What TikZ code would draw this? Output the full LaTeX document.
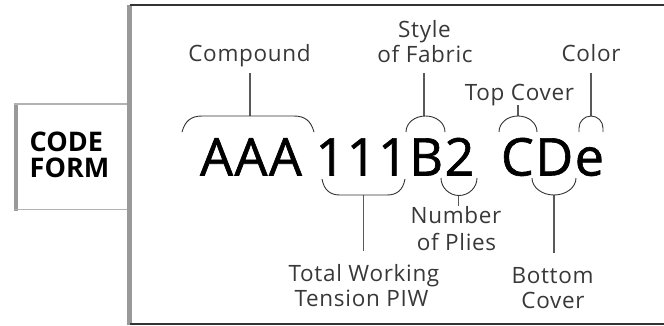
\documentclass[tikz,border=0pt]{standalone}
\usepackage{fontspec}
\setmainfont{Open Sans}
\newfontfamily\lblfont{Open Sans}[LetterSpace=3]
\newfontfamily\bigfont{Open Sans}[LetterSpace=3,FakeBold=1.2]
\begin{document}
\begin{tikzpicture}[x=1pt,y=1pt,
  lbl/.style={inner sep=0pt,anchor=base,font=\lblfont\fontsize{22.5}{25}\selectfont,text=black!78},
  big/.style={inner sep=0pt,anchor=base,font=\bigfont\fontsize{52}{60}\selectfont},
  leader/.style={draw=black!65,line width=1.2pt},
  brace/.style={draw=black!80,line width=0.9pt}]
\useasboundingbox (0,0) rectangle (664,-325);
% main frame
\fill[black!40] (127,-5) rectangle (132,-324.5);
\draw[black!80,line width=1.6pt] (130,-5) -- (664,-5);
\draw[black!80,line width=2pt] (130,-323.5) -- (664,-323.5);
% code form box
\fill[black!40] (13.5,-103) rectangle (18,-210.5);
\draw[black!30,line width=1.8pt] (13.5,-104) -- (127,-104);
\draw[black!30,line width=1.8pt] (13.5,-209.5) -- (127,-209.5);
\node[inner sep=0pt,anchor=base west,font=\bfseries\fontsize{27}{26}\selectfont] (cf) at (29.5,-151) {CODE};
\node[inner sep=0pt,anchor=base west,font=\bfseries\fontsize{27}{26}\selectfont] (cf2) at (29.5,-177) {FORM};
% big code
\node[big] (aaa) at (251,-175.5) {AAA};
\node[big] (num) at (395,-175.5) {111B2};
\node[big] (cde) at (552.5,-175.5) {CDe};
% labels
\node[lbl] (compound) at (249.5,-61.7) {Compound};
\node[lbl] (style1) at (424.5,-37) {Style};
\node[lbl] (style2) at (425,-62) {of Fabric};
\node[lbl] (top) at (519.5,-100) {Top Cover};
\node[lbl] (color) at (591,-61.7) {Color};
\node[lbl] (nplies1) at (456,-223.3) {Number};
\node[lbl] (nplies2) at (456.5,-250) {of Plies};
\node[lbl] (tw1) at (364,-281.7) {Total Working};
\node[lbl] (tw2) at (361.5,-306.7) {Tension PIW};
\node[lbl] (bc1) at (552.5,-283) {Bottom};
\node[lbl] (bc2) at (553,-308) {Cover};
% leader coordinates
\coordinate (c1) at (250,-73);   \coordinate (c2) at (250,-116);
\coordinate (s1) at (424,-73);   \coordinate (s2) at (424,-116);
\coordinate (t1) at (518,-105);  \coordinate (t2) at (518,-116);
\coordinate (k1) at (591,-73);   \coordinate (k2) at (591,-116);
\coordinate (w1) at (363.5,-195);\coordinate (w2) at (363.5,-251);
\coordinate (p1) at (458.5,-195.5);\coordinate (p2) at (458.5,-206);
\coordinate (b1) at (554,-195);  \coordinate (b2) at (554,-253);
\draw[leader] (c1) -- (c2);
\draw[leader] (s1) -- (s2);
\draw[leader] (t1) -- (t2);
\draw[leader] (k1) -- (k2);
\draw[leader] (w1) -- (w2);
\draw[leader] (p1) -- (p2);
\draw[leader] (b1) -- (b2);
% braces
\draw[brace] (182,-132) .. controls (185,-121) and (191,-116) .. (202,-116) -- (294,-116) .. controls (305,-116) and (311,-121) .. (314,-132);
\draw[brace] (406,-132) .. controls (406,-122.9) and (414.7,-116) .. (425.5,-116) .. controls (436.3,-116) and (445,-122.9) .. (445,-132);
\draw[brace] (499,-132) .. controls (499,-122.9) and (507.5,-116) .. (518,-116) .. controls (528.5,-116) and (537,-122.9) .. (537,-132);
\draw[brace] (579,-132) -- (579,-128) .. controls (579,-121.4) and (584.4,-116) .. (591,-116) .. controls (597.6,-116) and (603,-121.4) .. (603,-128) -- (603,-132);
\draw[brace] (322,-179) .. controls (324,-190) and (330,-195) .. (340,-195) -- (387,-195) .. controls (397,-195) and (403,-190) .. (405,-179);
\draw[brace] (441,-178) .. controls (441,-187.4) and (449.1,-195.5) .. (459,-195.5) .. controls (468.9,-195.5) and (477,-187.4) .. (477,-178);
\draw[brace] (532,-178) .. controls (532,-187.4) and (541.9,-195) .. (554,-195) .. controls (566.1,-195) and (576,-187.4) .. (576,-178);
\end{tikzpicture}
\end{document}
